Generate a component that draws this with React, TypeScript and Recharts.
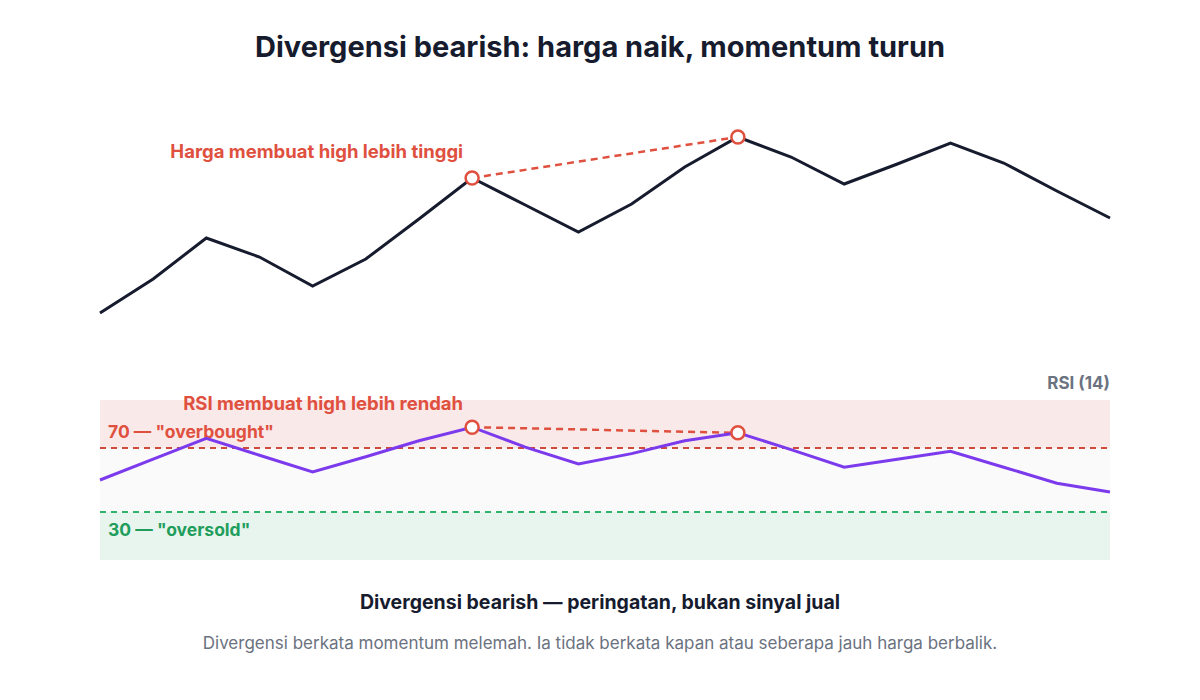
import React from "react";
import {
  LineChart,
  Line,
  XAxis,
  YAxis,
  ReferenceLine,
  ReferenceDot,
  ReferenceArea,
} from "recharts";

// ---- data ----
const bars: number[] = [0, 1, 2, 3, 4, 5, 6, 7, 8, 9, 10, 11, 12, 13, 14, 15, 16, 17, 18, 19];
const price: number[] = [
  101.7, 105.1, 109.2, 107.3, 104.4, 107.1, 111.1, 115.2, 112.5, 109.8,
  112.6, 116.3, 119.3, 117.3, 114.6, 116.6, 118.7, 116.7, 113.9, 111.2,
];
const rsi: number[] = [
  50, 63, 76, 65.5, 55, 64.5, 74.5, 83, 70.5, 60,
  66.5, 74.5, 79.5, 69, 58, 63, 68, 58, 48, 42.5,
];
const priceDomain: [number, number] = [100, 122];
const rsiDomain: [number, number] = [0, 100];
const overbought = 70;
const oversold = 30;
const highA = 7;
const highB = 12;

const titleText = "Divergensi bearish: harga naik, momentum turun";
const priceNote = "Harga membuat high lebih tinggi";
const rsiNote = "RSI membuat high lebih rendah";
const rsiTitle = "RSI (14)";
const obLabel = '70 — "overbought"';
const osLabel = '30 — "oversold"';
const caption = "Divergensi bearish — peringatan, bukan sinyal jual";
const footnote =
  "Divergensi berkata momentum melemah. Ia tidak berkata kapan atau seberapa jauh harga berbalik.";

const priceData = bars.map((i) => ({ i, v: price[i] }));
const rsiData = bars.map((i) => ({ i, v: rsi[i] }));

const FONT = 'Inter, "Liberation Sans", Arial, sans-serif';
const RED = "#e0503f";
const DARK = "#161b2e";
const PURPLE = "#7c3aed";
const GREEN = "#1f9d5c";

const noteLabel = (text: string, dy: number) => (props: any) => {
  const vb = props.viewBox || {};
  const cx = (vb.x ?? 0) + (vb.width ?? 0) / 2;
  const cy = (vb.y ?? 0) + (vb.height ?? 0) / 2;
  return (
    <text
      x={cx - 9}
      y={cy + dy}
      textAnchor="end"
      fill={RED}
      fontFamily={FONT}
      fontWeight={700}
      fontSize={18.5}
    >
      {text}
    </text>
  );
};

export default function App() {
  return (
    <div
      style={{
        position: "absolute",
        left: 0,
        top: 0,
        width: 1200,
        height: 700,
        background: "#ffffff",
        fontFamily: FONT,
      }}
    >
      <div
        style={{
          position: "absolute",
          top: 29,
          left: 0,
          width: 1200,
          textAlign: "center",
          fontSize: 29,
          fontWeight: 700,
          color: DARK,
        }}
      >
        {titleText}
      </div>

      {/* Price panel */}
      <div style={{ position: "absolute", left: 0, top: 0 }}>
        <LineChart
          width={1200}
          height={340}
          data={priceData}
          margin={{ top: 110, right: 90, bottom: 10, left: 100 }}
        >
          <XAxis dataKey="i" type="number" domain={[0, bars.length - 1]} hide />
          <YAxis domain={priceDomain} hide />
          <ReferenceLine
            segment={[
              { x: highA, y: price[highA] },
              { x: highB, y: price[highB] },
            ]}
            stroke={RED}
            strokeWidth={2.5}
            strokeDasharray="7 5"
          />
          <Line
            dataKey="v"
            type="linear"
            stroke={DARK}
            strokeWidth={3}
            dot={false}
            isAnimationActive={false}
          />
          <ReferenceDot
            x={highA}
            y={price[highA]}
            r={6.5}
            fill="#ffffff"
            stroke={RED}
            strokeWidth={2.5}
            label={{ content: noteLabel(priceNote, -20) } as any}
          />
          <ReferenceDot
            x={highB}
            y={price[highB]}
            r={6.5}
            fill="#ffffff"
            stroke={RED}
            strokeWidth={2.5}
          />
        </LineChart>
      </div>

      {/* RSI panel */}
      <div style={{ position: "absolute", left: 0, top: 0 }}>
        <LineChart
          width={1200}
          height={570}
          data={rsiData}
          margin={{ top: 400, right: 90, bottom: 10, left: 100 }}
        >
          <XAxis dataKey="i" type="number" domain={[0, bars.length - 1]} hide />
          <YAxis domain={rsiDomain} hide />
          <ReferenceArea y1={overbought} y2={rsiDomain[1]} fill="#f9e9e9" fillOpacity={1} stroke="none" />
          <ReferenceArea y1={oversold} y2={overbought} fill="#fafafa" fillOpacity={1} stroke="none" />
          <ReferenceArea y1={rsiDomain[0]} y2={oversold} fill="#e8f5ee" fillOpacity={1} stroke="none" />
          <ReferenceLine
            y={overbought}
            stroke="#d04a3c"
            strokeWidth={1.8}
            strokeDasharray="6 5"
            label={(p: any) => (
              <text
                x={(p.viewBox?.x ?? 0) + 8}
                y={(p.viewBox?.y ?? 0) - 10}
                fill={RED}
                fontFamily={FONT}
                fontWeight={700}
                fontSize={17.5}
              >
                {obLabel}
              </text>
            )}
          />
          <ReferenceLine
            y={oversold}
            stroke="#2fb36a"
            strokeWidth={1.8}
            strokeDasharray="6 5"
            label={(p: any) => (
              <text
                x={(p.viewBox?.x ?? 0) + 8}
                y={(p.viewBox?.y ?? 0) + 24}
                fill={GREEN}
                fontFamily={FONT}
                fontWeight={700}
                fontSize={17.5}
              >
                {osLabel}
              </text>
            )}
          />
          <ReferenceLine
            y={rsiDomain[1]}
            stroke="none"
            label={(p: any) => (
              <text
                x={(p.viewBox?.x ?? 0) + (p.viewBox?.width ?? 0)}
                y={(p.viewBox?.y ?? 0) - 11}
                textAnchor="end"
                fill="#6b7280"
                fontFamily={FONT}
                fontWeight={700}
                fontSize={17}
              >
                {rsiTitle}
              </text>
            )}
          />
          <ReferenceLine
            segment={[
              { x: highA, y: rsi[highA] },
              { x: highB, y: rsi[highB] },
            ]}
            stroke={RED}
            strokeWidth={2.5}
            strokeDasharray="7 5"
          />
          <Line
            dataKey="v"
            type="linear"
            stroke={PURPLE}
            strokeWidth={3}
            dot={false}
            isAnimationActive={false}
          />
          <ReferenceDot
            x={highA}
            y={rsi[highA]}
            r={6.5}
            fill="#ffffff"
            stroke={RED}
            strokeWidth={2.5}
            label={{ content: noteLabel(rsiNote, -17) } as any}
          />
          <ReferenceDot
            x={highB}
            y={rsi[highB]}
            r={6.5}
            fill="#ffffff"
            stroke={RED}
            strokeWidth={2.5}
          />
        </LineChart>
      </div>

      <div
        style={{
          position: "absolute",
          top: 590,
          left: 0,
          width: 1200,
          textAlign: "center",
          fontSize: 19.5,
          fontWeight: 700,
          color: DARK,
        }}
      >
        {caption}
      </div>
      <div
        style={{
          position: "absolute",
          top: 633,
          left: 0,
          width: 1200,
          textAlign: "center",
          fontSize: 17,
          color: "#6b7280",
        }}
      >
        {footnote}
      </div>
    </div>
  );
}
